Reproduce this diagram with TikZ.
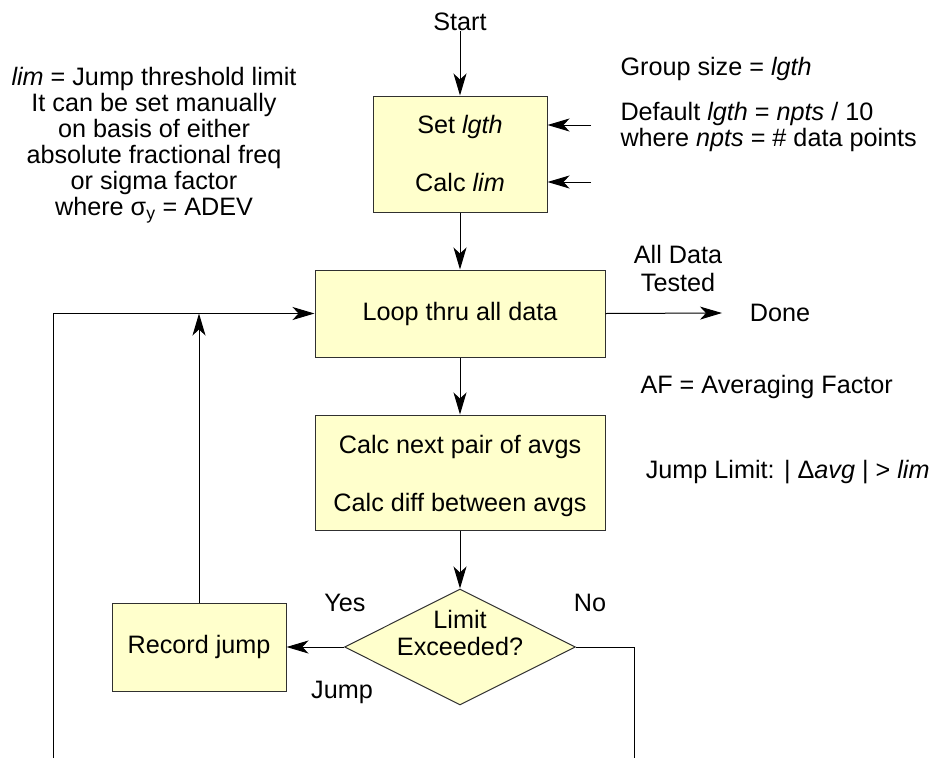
\documentclass[tikz,border=0pt]{standalone}
\usepackage{fontspec}
\setmainfont{Liberation Sans}
\usetikzlibrary{arrows.meta,shapes.geometric}
\definecolor{boxfill}{HTML}{FFFFCC}
\definecolor{edge}{HTML}{303030}
\begin{document}
\begin{tikzpicture}[x=1pt,y=1pt,line width=1pt,
  txt/.style={font=\fontsize{25.2}{26}\selectfont, inner sep=0pt, yshift=-6pt},
  box/.style={draw=edge, line width=1pt, fill=boxfill, inner sep=0pt, font=\fontsize{25.2}{26}\selectfont},
  arr/.style={-{Stealth[length=22pt,width=13pt,inset=6pt]}}]
\useasboundingbox (0,0) rectangle (937,-758);

% boxes
\node[box, minimum width=174pt, minimum height=116pt] (b1) at (460,-154) {};
\node[txt, anchor=mid] (b1t) at (460,-125) {Set \textit{lgth}};
\node[txt, anchor=mid] (b1b) at (460,-183) {Calc \textit{lim}};

\node[box, minimum width=290pt, minimum height=87pt] (b2) at (460,-313.5) {Loop thru all data};

\node[box, minimum width=290pt, minimum height=115pt] (b3) at (460,-472.5) {};
\node[txt, anchor=mid] (b3t) at (460,-445) {Calc next pair of avgs};
\node[txt, anchor=mid] (b3b) at (460,-503) {Calc diff between avgs};

\node[box, diamond, minimum width=231pt, minimum height=116pt] (dia) at (460,-647) {};
\node[txt, anchor=mid] (dt) at (460,-620) {Limit};
\node[txt, anchor=mid] (db) at (460,-647) {Exceeded?};

\node[box, minimum width=174pt, minimum height=88pt] (rec) at (199,-647) {Record jump};

% free texts
\node[txt, anchor=mid] (start) at (460,-22) {Start};
\node[txt, anchor=mid] (yes) at (345,-603) {Yes};
\node[txt, anchor=mid] (no) at (590,-603) {No};
\node[txt, anchor=mid] (jump) at (342,-690) {Jump};
\node[txt, anchor=mid] (alld) at (678,-255) {All Data};
\node[txt, anchor=mid] (tested) at (678,-283) {Tested};
\node[txt, anchor=mid] (done) at (780,-313) {Done};

\node[txt, anchor=mid] (n1) at (154,-77) {\textit{lim} = Jump threshold limit};
\node[txt, anchor=mid] (n2) at (154,-103) {It can be set manually};
\node[txt, anchor=mid] (n3) at (154,-129) {on basis of either};
\node[txt, anchor=mid] (n4) at (154,-155) {absolute fractional freq};
\node[txt, anchor=mid] (n5) at (154,-181) {or sigma factor};
\node[txt, anchor=mid] (n6) at (154,-207) {where σ\textsubscript{y} = ADEV};

\node[txt, anchor=mid west] (g1) at (620,-67) {Group size = \textit{lgth}};
\node[txt, anchor=mid west] (g2) at (620,-112) {Default \textit{lgth} = \textit{npts} / 10};
\node[txt, anchor=mid west] (g3) at (620,-138) {where \textit{npts} = \# data points};

\node[txt, anchor=mid west] (af) at (640,-385) {AF = Averaging Factor};
\node[txt, anchor=mid east] (jl) at (930,-470) {Jump Limit: | Δ\textit{avg} | > \textit{lim}};

% connectors
\coordinate (in1) at (591,-125);
\coordinate (in2) at (591,-182);
\coordinate (donetip) at (722,-313);
\coordinate (bl) at (53,-758);
\coordinate (br) at (634,-758);

\draw[arr] (start.south) -- (b1.north);
\draw[arr] (in1) -- (in1 -| b1.east);
\draw[arr] (in2) -- (in2 -| b1.east);
\draw[arr] (b1.south) -- (b2.north);
\draw[arr] (b2.south) -- (b3.north);
\draw[arr] (b3.south) -- (dia.north);
\draw[arr] (b2.east) -- (donetip);
\draw[arr] (dia.west) -- (rec.east);
\draw[arr] (rec.north) -- (rec.north |- b2.west);
\draw[arr] (bl) |- (b2.west);
\draw (dia.east) -| (br);
\end{tikzpicture}
\end{document}
